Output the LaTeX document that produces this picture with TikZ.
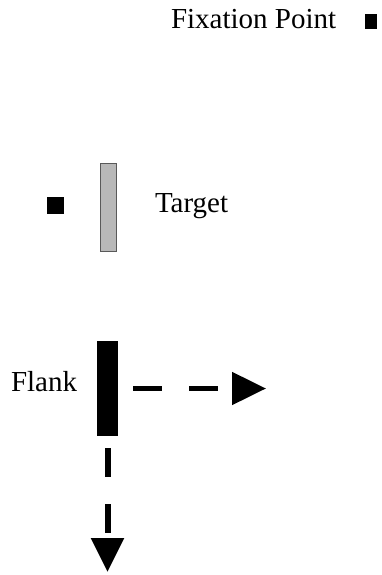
\documentclass[tikz,border=0pt]{standalone}
\usepackage{fontspec}
\setmainfont{Liberation Serif}
\usetikzlibrary{arrows.meta}
\begin{document}
\begin{tikzpicture}[x=1bp,y=-1bp,
  lbl/.style={anchor=base west,inner sep=0pt,outer sep=0pt,font=\fontsize{29bp}{31bp}\selectfont},
  blk/.style={rectangle,fill=black,draw=none,inner sep=0pt,outer sep=0pt},
  graybar/.style={rectangle,fill=black!28,draw=black!65,line width=0.6bp,inner sep=0pt,outer sep=0pt},
  moveline/.style={line width=#1,dash pattern=on 29bp off 27bp,-{Triangle[length=34bp,width=32bp]}}]
\useasboundingbox (0,0) rectangle (381,575);
% fixation point
\node[lbl] (fixlbl) at (171,29) {Fixation Point};
\node[blk,minimum width=12bp,minimum height=15bp] (fix) at (371,21.5) {};
% target
\node[blk,minimum width=17bp,minimum height=17bp] (sq) at (55.5,205.5) {};
\node[graybar,minimum width=16bp,minimum height=88bp] (target) at (108,207) {};
\node[lbl] (tlbl) at (155,212) {Target};
% flank
\node[blk,minimum width=21bp,minimum height=95bp] (flank) at (107.5,388.5) {};
\node[lbl] (flbl) at (11,391) {Flank};
\coordinate (hend) at (266,388.5);
\coordinate (vend) at (107.5,572);
\draw[moveline=5bp,shorten <=15bp] (flank.east) -- (hend);
\draw[moveline=6bp,shorten <=12bp] (flank.south) -- (vend);
\end{tikzpicture}
\end{document}
